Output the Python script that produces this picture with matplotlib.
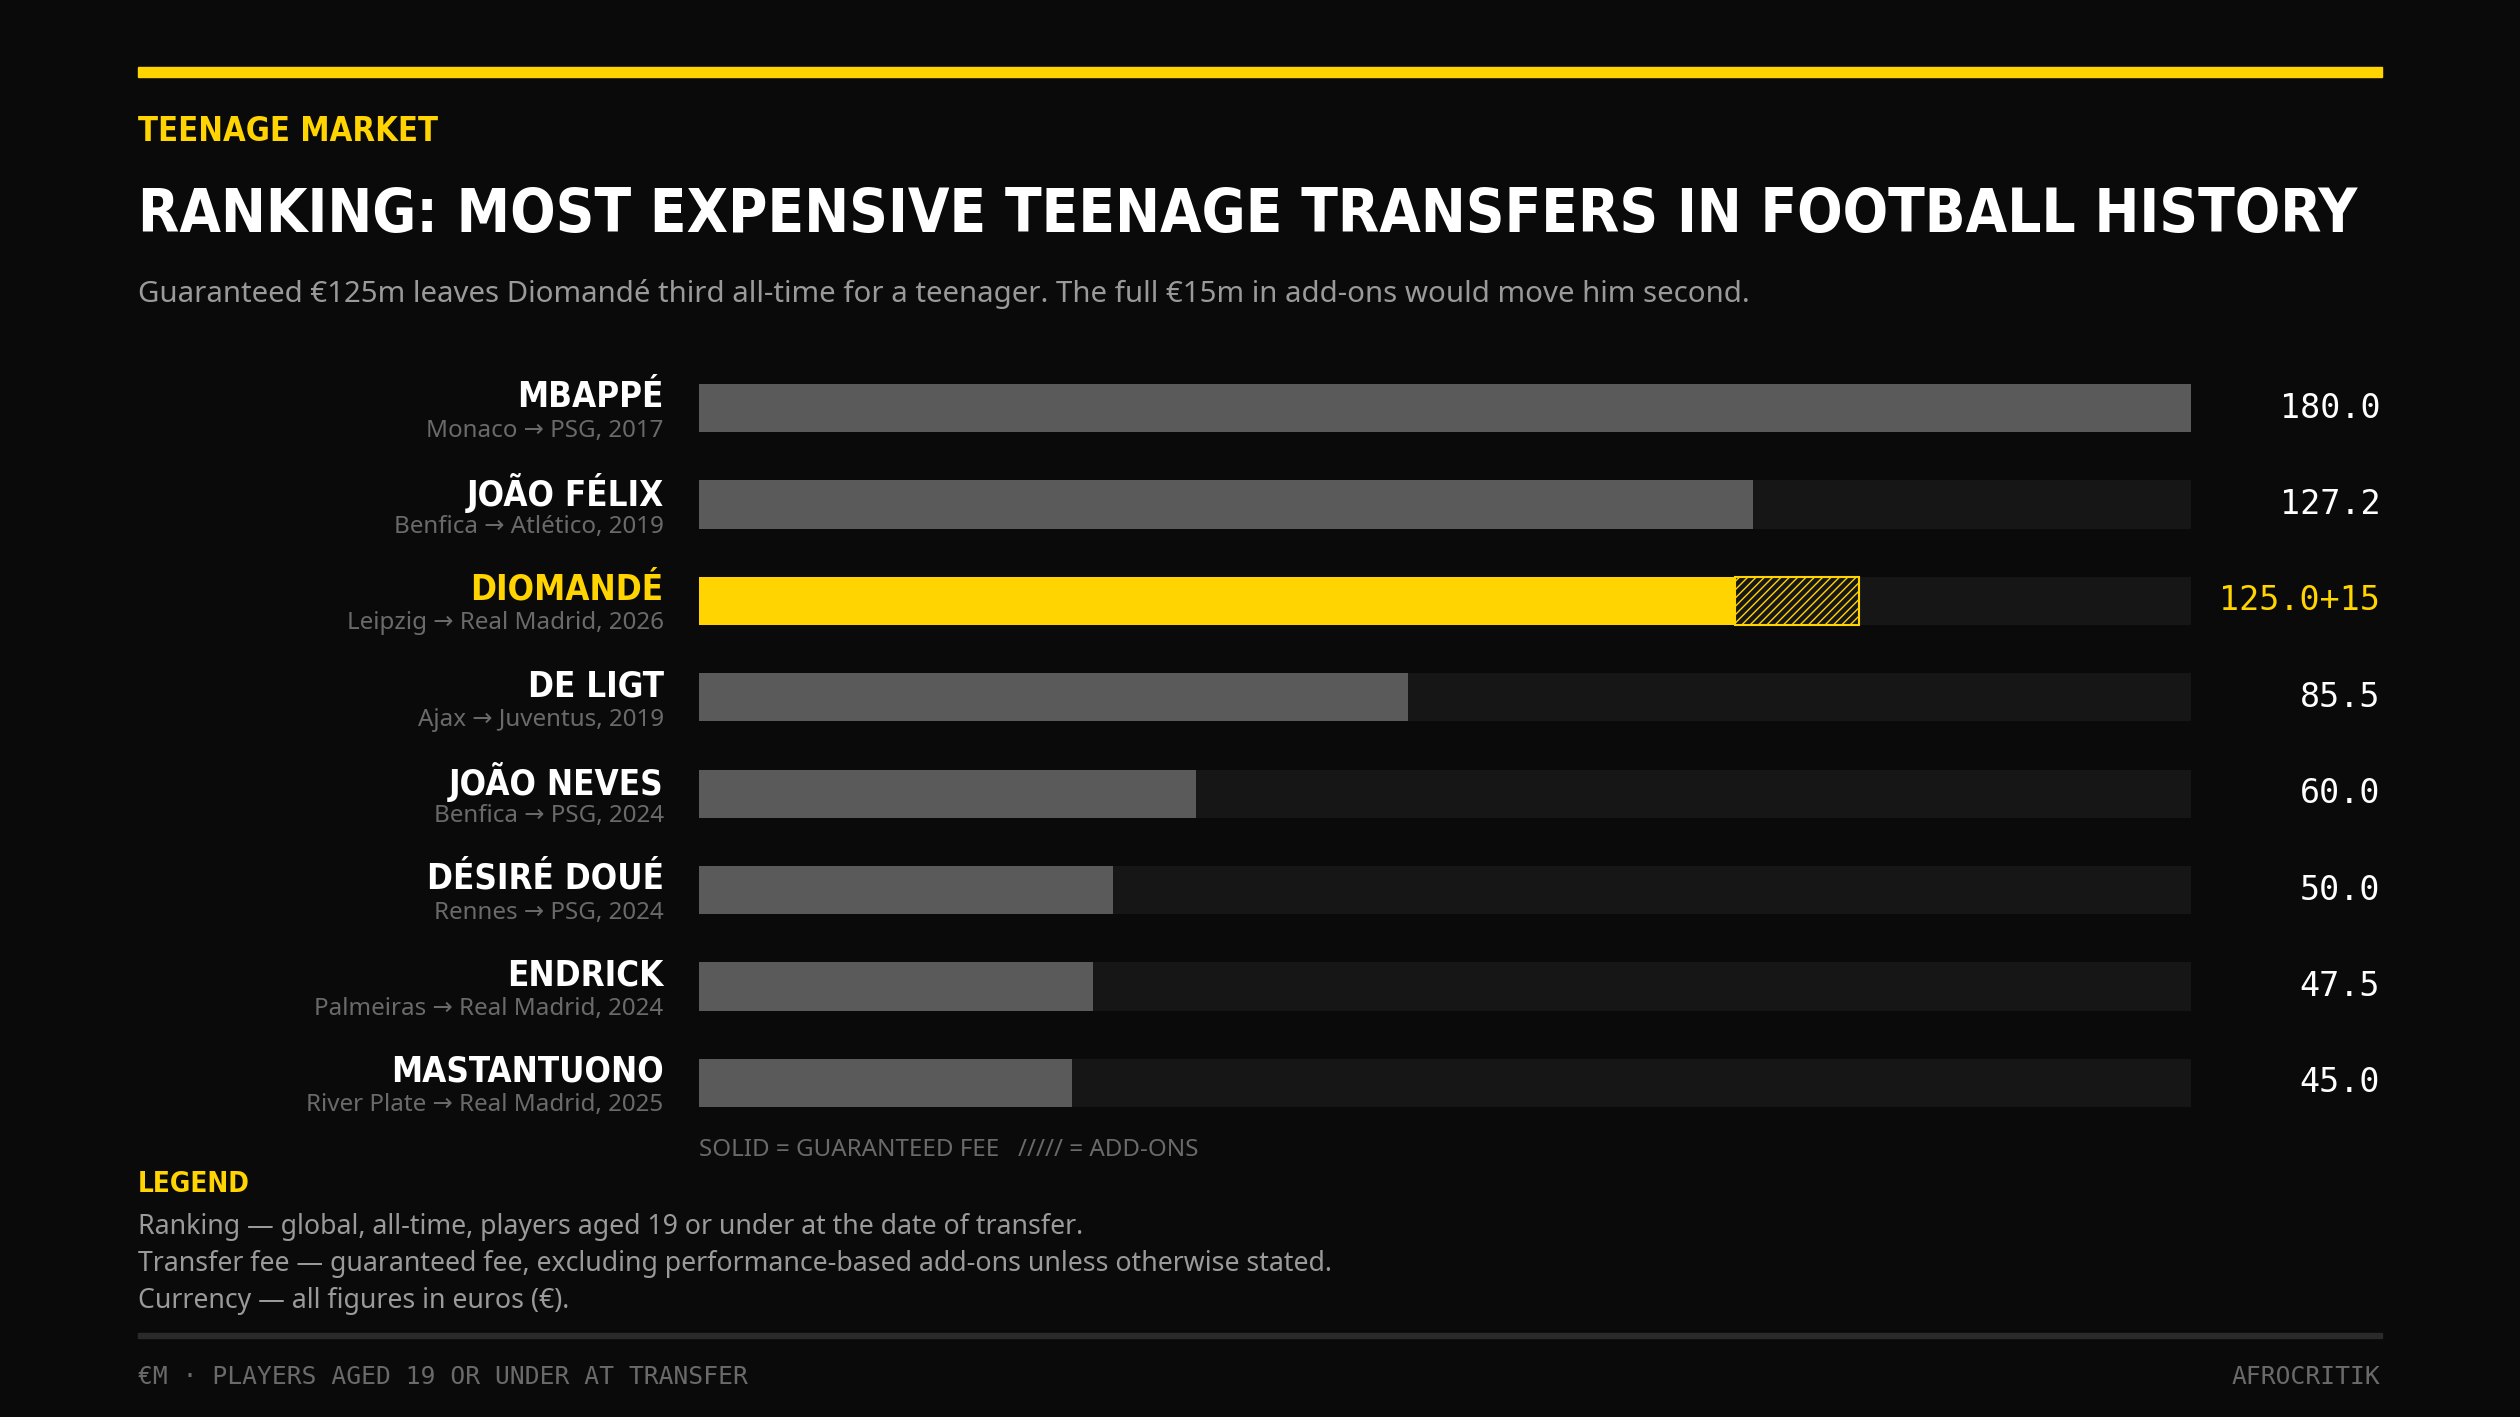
import matplotlib
matplotlib.use("Agg")
import matplotlib.pyplot as plt
from matplotlib.patches import Rectangle

names = ["MBAPPÉ", "JOÃO FÉLIX", "DIOMANDÉ", "DE LIGT", "JOÃO NEVES", "DÉSIRÉ DOUÉ", "ENDRICK", "MASTANTUONO"]
moves = ["Monaco → PSG, 2017", "Benfica → Atlético, 2019", "Leipzig → Real Madrid, 2026", "Ajax → Juventus, 2019",
         "Benfica → PSG, 2024", "Rennes → PSG, 2024", "Palmeiras → Real Madrid, 2024", "River Plate → Real Madrid, 2025"]
fees = [180.0, 127.2, 125.0, 85.5, 60.0, 50.0, 47.5, 45.0]
addons = [0, 0, 15, 0, 0, 0, 0, 0]
labels = ["180.0", "127.2", "125.0+15", "85.5", "60.0", "50.0", "47.5", "45.0"]
highlight = 2
max_fee = 180

BG = "#0a0a0a"; YEL = "#FFD400"; GREY = "#5a5a5a"; TRACK = "#161616"
plt.rcParams["hatch.color"] = YEL
W, H = 1568, 882
fig = plt.figure(figsize=(25.2, 14.17), dpi=100, facecolor=BG)
ov = fig.add_axes([0, 0, 1, 1]); ov.set_xlim(0, W); ov.set_ylim(H, 0); ov.axis("off"); ov.set_facecolor(BG)
sans = ["Noto Sans", "DejaVu Sans"]; bold = "DejaVu Sans"; mono = "DejaVu Sans Mono"
bk = dict(fontweight="bold", family=bold, fontstretch="condensed")

ov.add_patch(Rectangle((86, 42), 1396, 6, color=YEL))
ov.text(86, 82, "TEENAGE MARKET", color=YEL, fontsize=23.5, va="center", **bk)
ov.text(86, 134, "RANKING: MOST EXPENSIVE TEENAGE TRANSFERS IN FOOTBALL HISTORY", color="white", fontsize=43,
        va="center", **bk)
ov.text(86, 183, "Guaranteed €125m leaves Diomandé third all-time for a teenager. The full €15m in add-ons would move him second.",
        color="#9a9a9a", fontsize=21.2, family=sans, va="center")

x0, x1 = 435, 1363
ax = fig.add_axes([x0 / W, 1 - 704 / H, (x1 - x0) / W, 480 / H])
ax.set_xlim(0, max_fee); ax.set_ylim(7.5, -0.5); ax.axis("off")
ys = list(range(len(fees)))
ax.barh(ys, [max_fee] * len(fees), height=0.5, color=TRACK)
ax.barh(ys, fees, height=0.5, color=[YEL if i == highlight else GREY for i in ys])
ay = [i for i in ys if addons[i] > 0]
ax.barh(ay, [addons[i] for i in ay], left=[fees[i] for i in ay], height=0.5, color="none",
        edgecolor=YEL, hatch="////", linewidth=1.5)

for i in ys:
    yc = 254 + 60 * i
    c = YEL if i == highlight else "white"
    ov.text(413, yc - 7, names[i], color=c, fontsize=25, ha="right", va="center", **bk)
    ov.text(413, yc + 14, moves[i], color="#6a6a6a", fontsize=17.4, family=sans, ha="right", va="center")
    ov.text(1481, yc, labels[i], color=c, fontsize=24, family=mono, ha="right", va="center")

ov.text(435, 716, "SOLID = GUARANTEED FEE   ///// = ADD-ONS", color="#6a6a6a", fontsize=17.4, family=sans, va="center")
ov.text(86, 737, "LEGEND", color=YEL, fontsize=20, va="center", **bk)
for k, t in enumerate(["Ranking — global, all-time, players aged 19 or under at the date of transfer.",
                       "Transfer fee — guaranteed fee, excluding performance-based add-ons unless otherwise stated.",
                       "Currency — all figures in euros (€)."]):
    ov.text(86, 764 + 23 * k, t, color="#9a9a9a", fontsize=19.2, family=sans, va="center")
ov.add_patch(Rectangle((86, 830), 1396, 3, color="#2a2a2a"))
ov.text(86, 857, "€M · PLAYERS AGED 19 OR UNDER AT TRANSFER", color="#6a6a6a", fontsize=17.7, family=mono, va="center")
ov.text(1481, 857, "AFROCRITIK", color="#6a6a6a", fontsize=17.7, family=mono, va="center", ha="right")

fig.savefig("out.png", dpi=100, facecolor=BG)
